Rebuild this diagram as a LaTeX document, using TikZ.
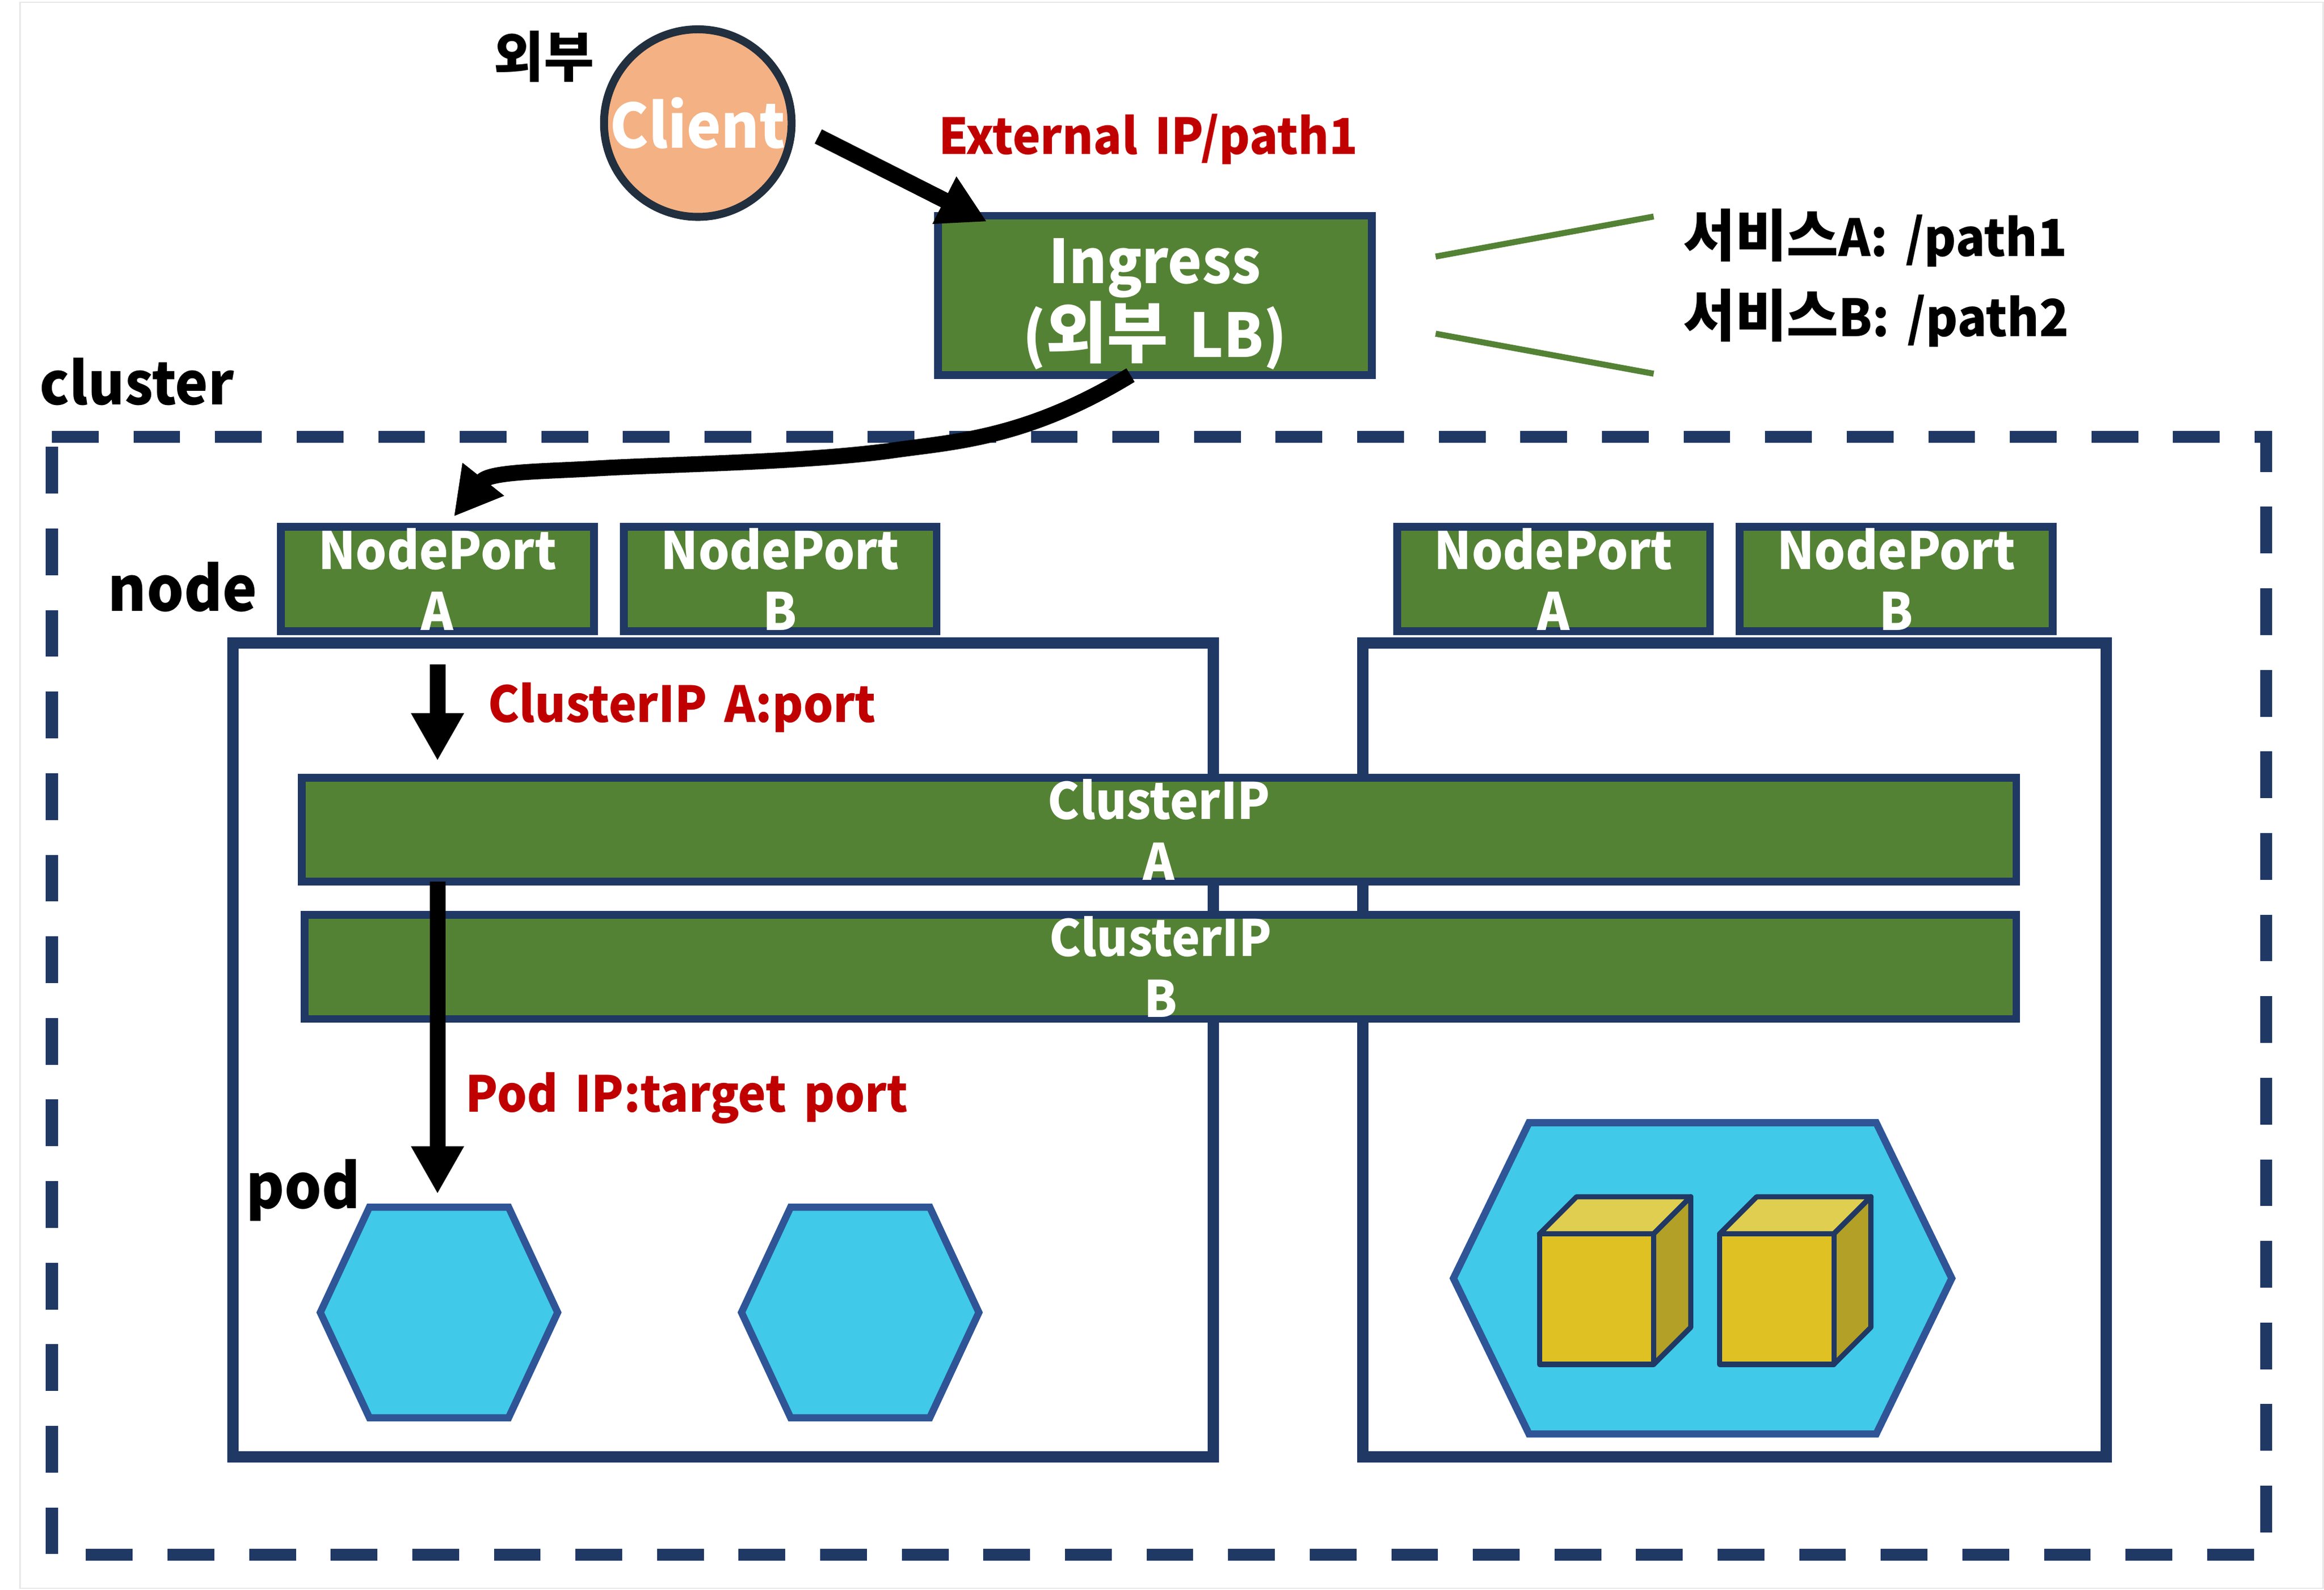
\documentclass[tikz,border=0pt]{standalone}
\usepackage{fontspec}
\setmainfont{Noto Sans CJK KR}[FakeStretch=0.95, WordSpace=1.6]
\newfontfamily\krfont{Noto Sans CJK KR}[Scale=1.1]
\usetikzlibrary{arrows.meta, shapes.symbols}

\definecolor{navy}{HTML}{1F3864}
\definecolor{leaf}{HTML}{548235}
\definecolor{peach}{HTML}{F4B183}
\definecolor{slate}{HTML}{222F3E}
\definecolor{sky}{HTML}{40C9E8}
\definecolor{podline}{HTML}{2F5597}
\definecolor{redtxt}{HTML}{C00000}
\definecolor{cubefront}{HTML}{DFC123}
\definecolor{cubetop}{HTML}{E0CE50}
\definecolor{cubeside}{HTML}{B3A026}

% a small box drawn at its front left top corner
\newcommand{\podcube}[2]{
  \draw[cubeline, fill=cubetop, shift={(#1,#2)}] (0,0) -- (25,-25) -- (102,-25) -- (77,0) -- cycle;
  \draw[cubeline, fill=cubeside, shift={(#1,#2)}] (77,0) -- (102,-25) -- (102,63) -- (77,88) -- cycle;
  \draw[cubeline, fill=cubefront, shift={(#1,#2)}] (0,0) rectangle (77,88);
}

\begin{document}
\begin{tikzpicture}[x=0.7479pt, y=-0.7479pt, inner sep=0pt, outer sep=0pt,
    align=center, font=\bfseries]

  \tikzstyle{portbox}=[draw=navy, line width=3.9pt, fill=leaf, text=white,
    minimum width=157.8pt, minimum height=52.6pt, font=\fontsize{26}{30.7}\bfseries]
  \tikzstyle{ipbox}=[portbox, minimum width=864.6pt, minimum height=52.4pt,
    font=\fontsize{25.3}{30.7}\bfseries]
  \tikzstyle{hostbox}=[draw=navy, line width=5.7pt, fill=white, minimum height=410.6pt]
  \tikzstyle{podhex}=[draw=podline, line width=3.6pt, fill=sky, signal,
    signal to=east and west, signal pointer angle=130,
    minimum width=119.7pt, minimum height=106.2pt]
  \tikzstyle{cubeline}=[draw=navy, line width=2.6pt, line join=round]
  \tikzstyle{bigarrow}=[draw=black, line width=8pt,
    -{Triangle[length=24pt, width=25pt]}]
  \tikzstyle{leadline}=[draw=leaf, line width=3pt]
  \tikzstyle{blacktxt}=[anchor=base west, text=black, font=\fontsize{31}{36}\bfseries]
  \tikzstyle{redlabel}=[anchor=base west, text=redtxt, font=\fontsize{25}{30}\bfseries]

  \useasboundingbox (0,0) rectangle (1567,1072);
  \fill[white] (0,0) rectangle (1567,1072);
  \draw[black!9, line width=0.8pt] (13.5,1.5) rectangle (1566.5,1071);

  % cluster border
  \draw[navy, line width=6pt, dash pattern=on 23.56pt off 17.58pt]
  (35,294.5) -- (1528,294.5) -- (1528,1048.5) -- (35,1048.5) -- cycle;

  \node[hostbox, minimum width=494.4pt] (hostL) at (487.5,708) {};
  \node[hostbox, minimum width=374.9pt] (hostR) at (1169.4,708) {};

  \node[podhex] (pod1) at (296,885) {};
  \node[podhex] (pod2) at (580,885) {};
  \node[podhex, minimum width=251.3pt, minimum height=157pt,
    signal pointer angle=128.2] (pod3) at (1148,862) {};
  \podcube{1038}{832}
  \podcube{1159.5}{832}

  \node[draw=slate, line width=4pt, fill=peach, circle, minimum size=94.6pt,
    text=white, font=\fontsize{30.8}{36}\bfseries] (client) at (470.5,83) {Client};
  \node[portbox, minimum width=218.8pt, minimum height=80.4pt,
    font=\fontsize{30.5}{37.4}\bfseries] (ingress) at (778.7,199.2)
  {\rule{0pt}{31.4pt}Ingress\\({\krfont 외부} LB)};

  \node[portbox, node distance=172.8pt] (portA1) at (295,390.5) {NodePort\\A};
  \node[portbox, node distance=172.8pt] (portB1) [right of=portA1] {NodePort\\B};
  \node[portbox] (portA2) at (1047.5,390.5) {NodePort\\A};
  \node[portbox, node distance=172.8pt] (portB2) [right of=portA2] {NodePort\\B};

  \node[ipbox] (ipA) at (781.5,559.5) {ClusterIP\\A};
  \node[ipbox, minimum width=863.1pt] (ipB) at (782.5,652) {ClusterIP\\B};

  \draw[bigarrow] ([shift={(18,9)}]client.east) -- ([shift={(33,4)}]ingress.north west);
  \draw[bigarrow] (ingress.-107)
  .. controls (690,297) and (640,298) .. (600,304)
  .. controls (540,312) and (450,313) .. (400,316)
  .. controls (365,318) and (330,318) .. ([shift={(11,-7)}]portA1.north);
  \draw[bigarrow, shorten <=16.8pt] (portA1.south) -- ([yshift=8.6pt]ipA.north -| portA1);
  \draw[bigarrow] (ipA.south -| portA1) -- ([yshift=6.7pt]pod1.north -| portA1);

  \coordinate (leadA1) at (968,173);
  \coordinate (leadA2) at (1115,146);
  \coordinate (leadB1) at (968,225);
  \coordinate (leadB2) at (1115,252);
  \draw[leadline] (leadA1) -- (leadA2);
  \draw[leadline] (leadB1) -- (leadB2);

  \node[blacktxt, font=\fontsize{25}{30}\bfseries] (outerlbl) at (333,52) {\krfont 외부};
  \node[blacktxt, font=\fontsize{29.5}{36}\bfseries] (clusterlbl) at (27,273) {cluster};
  \node[blacktxt] (nodelbl) at (73,412) {node};
  \node[blacktxt] (podlbl) at (166,815) {pod};
  \node[blacktxt, font=\fontsize{25.8}{30}\bfseries] (svcA) at (1135,173) {{\krfont 서비스}A: /path1};
  \node[blacktxt, font=\fontsize{25.8}{30}\bfseries] (svcB) at (1135,227) {{\krfont 서비스}B: /path2};
  \node[redlabel] (extlbl) at (633,104) {External IP/path1};
  \node[redlabel] (ipportlbl) at (329,487) {ClusterIP A:port};
  \node[redlabel] (podportlbl) at (314,750) {Pod IP:target port};
\end{tikzpicture}
\end{document}
